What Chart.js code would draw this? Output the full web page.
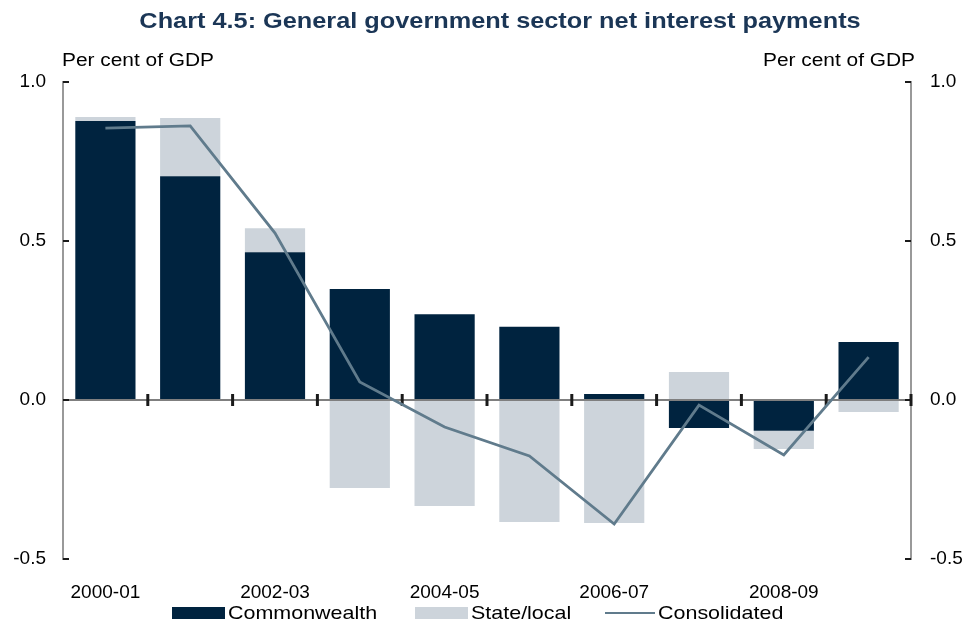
<!DOCTYPE html>
<html>
<head>
<meta charset="utf-8">
<script src="https://cdn.jsdelivr.net/npm/chart.js@4.4.1/dist/chart.umd.min.js"></script>
<style>
  html, body { margin: 0; padding: 0; background: #fff; }
  #wrap { position: relative; width: 967px; height: 625px; }
  #legend {
    position: absolute; left: 0; top: 602px; width: 967px; height: 22px;
    font-family: "Liberation Sans", Arial, sans-serif; font-size: 19px; color: #000;
  }
  #legend .item { position: absolute; top: 0; height: 22px; display: flex; align-items: center; }
  #legend .swatch { width: 53px; height: 12px; margin-right: 3px; flex: none; }
  #legend .rule { width: 50px; height: 2px; margin-right: 3px; flex: none; }
  #legend .text { display: inline-block; transform: scaleX(1.13); transform-origin: left center; white-space: nowrap; }
</style>
</head>
<body>
<div id="wrap">
  <canvas id="graph"></canvas>
  <div id="legend"></div>
</div>
<script>
  const years = ["2000-01", "2001-02", "2002-03", "2003-04", "2004-05",
                 "2005-06", "2006-07", "2007-08", "2008-09", "2009-10"];
  const commonwealth = [0.877, 0.704, 0.465, 0.349, 0.27, 0.23, 0.019, -0.088, -0.097, 0.182];
  const state_local = [0.013, 0.183, 0.075, -0.277, -0.333, -0.384, -0.387, 0.088, -0.057, -0.038];
  const consolidated = [0.855, 0.862, 0.525, 0.057, -0.085, -0.176, -0.39, -0.016, -0.173, 0.135];
  const y_ticks = [-0.5, 0, 0.5, 1.0];

  const navy = "#00233f";
  const grey = "#cdd4db";
  const slate = "#607b8c";
  const font_family = "'Liberation Sans', Arial, sans-serif";

  // text drawn a little wider than the face's natural width
  const wideText = (ctx, text, x, y, align, sx) => {
    const w = ctx.measureText(text).width * sx;
    const left = align === "center" ? x - w / 2 : align === "right" ? x - w : x;
    ctx.save();
    ctx.translate(left, y);
    ctx.scale(sx, 1);
    ctx.textAlign = "left";
    ctx.fillText(text, 0, 0);
    ctx.restore();
  };

  // title, unit labels, inward tick marks and the zero line with category ticks
  const decorations = {
    id: "decorations",
    beforeDatasetDraw(chart, args) {
      if (args.index !== 2) return;
      const { ctx, chartArea, scales } = chart;
      const y0 = scales.y.getPixelForValue(0);
      const step = scales.x.getPixelForTick(1) - scales.x.getPixelForTick(0);
      ctx.save();
      ctx.strokeStyle = "#7f7f7f";
      ctx.lineWidth = 2;
      ctx.beginPath();
      ctx.moveTo(chartArea.left, y0);
      ctx.lineTo(chartArea.right, y0);
      ctx.stroke();
      ctx.strokeStyle = "#1a1a1a";
      ctx.lineWidth = 3;
      years.forEach((yr, i) => {
        const x = scales.x.getPixelForTick(i) + step / 2;
        ctx.beginPath();
        ctx.moveTo(x, y0 - 6);
        ctx.lineTo(x, y0 + 6);
        ctx.stroke();
      });
      ctx.restore();
    },
    afterDraw(chart) {
      const { ctx, chartArea, scales } = chart;
      ctx.save();
      ctx.strokeStyle = "#1a1a1a";
      ctx.lineWidth = 2;
      y_ticks.forEach((v) => {
        const y = scales.y.getPixelForValue(v);
        ctx.beginPath();
        ctx.moveTo(chartArea.left, y);
        ctx.lineTo(chartArea.left + 6, y);
        ctx.moveTo(chartArea.right, y);
        ctx.lineTo(chartArea.right - 6, y);
        ctx.stroke();
      });

      ctx.textBaseline = "middle";
      ctx.fillStyle = "#1b3656";
      ctx.font = "bold 22px " + font_family;
      wideText(ctx, "Chart 4.5: General government sector net interest payments", 500, 22, "center", 1.15);

      ctx.fillStyle = "#000";
      ctx.font = "18px " + font_family;
      wideText(ctx, "Per cent of GDP", 62, 61, "left", 1.16);
      wideText(ctx, "Per cent of GDP", 915, 61, "right", 1.16);
      ctx.restore();
    },
  };

  const legend_items = [
    { label: "Commonwealth", kind: "swatch", color: navy, left: 172 },
    { label: "State/local", kind: "swatch", color: grey, left: 415 },
    { label: "Consolidated", kind: "rule", color: slate, left: 605 },
  ];
  legend_items.forEach((it) => {
    const item = document.createElement("div");
    item.className = "item";
    item.style.left = it.left + "px";
    const mark = document.createElement("span");
    mark.className = it.kind;
    mark.style.background = it.color;
    const text = document.createElement("span");
    text.className = "text";
    text.textContent = it.label;
    item.appendChild(mark);
    item.appendChild(text);
    document.getElementById("legend").appendChild(item);
  });

  const tick_font = { family: font_family, size: 19 };

  new Chart(document.getElementById("graph").getContext("2d"), {
    type: "bar",
    data: {
      labels: years,
      datasets: [
        { label: "Commonwealth", data: commonwealth, backgroundColor: navy, stack: "bars", order: 1,
          barPercentage: 0.71, categoryPercentage: 1 },
        { label: "State/local", data: state_local, backgroundColor: grey, stack: "bars", order: 1,
          barPercentage: 0.71, categoryPercentage: 1 },
        { type: "line", label: "Consolidated", data: consolidated, borderColor: slate, borderWidth: 2.8,
          pointRadius: 0, tension: 0, stack: "line", order: 0 },
      ],
    },
    options: {
      responsive: true,
      maintainAspectRatio: false,
      animation: false,
      layout: { padding: { top: 82, bottom: 26, left: 0, right: 0 } },
      plugins: { legend: { display: false }, tooltip: { enabled: false } },
      scales: {
        x: {
          stacked: true,
          grid: { display: false },
          border: { display: false },
          ticks: {
            autoSkip: false, maxRotation: 0, padding: 14, color: "#000", font: tick_font,
            callback: (v, i) => (i % 2 === 0 ? years[i] : ""),
          },
          afterFit: (s) => { s.height = 40; },
        },
        y: {
          position: "left",
          stacked: true,
          min: -0.5, max: 1,
          grid: { display: false, drawTicks: false },
          border: { color: "#999", width: 2 },
          ticks: { stepSize: 0.5, padding: 17, color: "#000", font: tick_font, callback: (v) => v.toFixed(1) },
          afterFit: (s) => { s.width = 63; },
        },
        y2: {
          position: "right",
          min: -0.5, max: 1,
          grid: { display: false, drawTicks: false },
          border: { color: "#999", width: 2 },
          ticks: { stepSize: 0.5, padding: 19, color: "#000", font: tick_font, callback: (v) => v.toFixed(1) },
          afterFit: (s) => { s.width = 56; },
        },
      },
    },
    plugins: [decorations],
  });
</script>
</body>
</html>
